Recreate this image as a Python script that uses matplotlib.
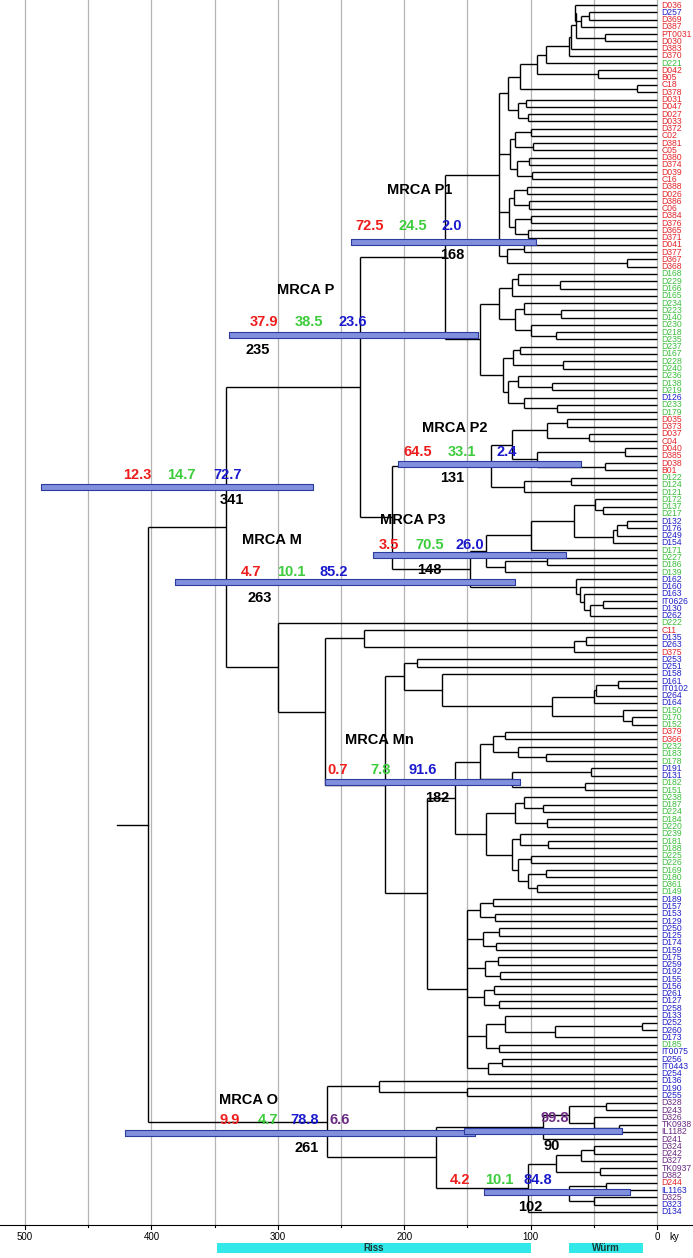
import re
import matplotlib
matplotlib.use("Agg")
import matplotlib.pyplot as plt

plt.rcParams['font.family'] = ['Liberation Sans', 'DejaVu Sans']

# ---------------- data ----------------
LEAVES = ["D036","D257","D369","D387","PT0031","D030","D383","D370","D221","D042","B05","C18","D378",
"D031","D047","D027","D033","D372","C02","D381","C05","D380","D374","D039","C16","D388","D026","D386",
"C06","D384","D376","D365","D371","D041","D377","D367","D368",
"D168","D229","D166","D165","D234","D223","D140","D230","D218","D235","D237","D167","D228","D240",
"D236","D138","D219","D126","D233","D179",
"D035","D373","D037","C04","D040","D385","D038","B01","D122","D124","D121",
"D172","D137","D217","D132","D176","D249","D154","D171","D227","D186","D139","D162","D160","D163",
"IT0626","D130","D262","D222",
"C11","D135","D263","D375","D253","D251","D158","D161","IT0102","D264","D164","D150","D170","D152",
"D379","D366","D232","D183","D178","D191","D131","D182","D151","D238","D187","D224","D184","D220",
"D239","D181","D188","D225","D226","D169","D180","D361","D149",
"D189","D157","D153","D129","D250","D125","D174","D159","D175","D259","D192","D155","D156","D261",
"D127","D258","D133","D252","D260","D173","D185","IT0075","D256","IT0443","D254","D136",
"D190","D255","D328","D243","D326","TK0938","IL1182","D241","D324","D242","D327","TK0937","D382",
"D244","IL1163","D325","D323","D134"]
LEAF_GROUP = ("RBRRRRRRGRRRR" + "R"*24 +
              "G"*17 + "BGG" +
              "RRRRRRRR" + "GGG" +
              "GGG" + "BBBB" + "GGGG" + "BBBBBB" + "G" +
              "RBBRBBB" + "BBBB" + "GGG" +
              "RR" + "GGG" + "BB" + "G"*16 +
              "B"*20 + "G" + "B"*5 +
              "BB" + "P"*11 + "RBPBBB")

A9 = "((((((D036,((D257,D369)54,D387)60)65,(PT0031,D030)41)64,D383)68,D370)70,D221)88,(D042,B05)47)95"
RED1 = ("(((" + A9 + ",(C18,D378)16)108,((D031,D047)104,(D027,D033)102)110)118,"
        "(((D372,C02)100,(D381,C05)98)112,((D380,D374)101,(D039,C16)99)111)116,"
        "(((D388,D026)103,(D386,C06)101)113,((D384,D376)100,(D365,D371)102)112)117,"
        "((D041,D377)105,(D367,D368)24)119)125")
GREEN1 = ("((((D168,(D229,D166)77)110,D165)115,((D234,(D223,D140)76)105,(D230,(D218,D235)80)100)112)125,"
          "(((D237,D167)108,(D228,D240)74)114,((D236,(D138,D219)83)110,(D126,(D233,D179)79)105)118)122)140")
P2 = "((((D035,D373)71,(D037,C04)54)87,((D040,D385)25,(D038,B01)41)95)115,((D122,D124)68,D121)105)131"
P3 = ("(((((D172,(D137,D217)43)49,(((D132,D176)24,D249)32,D154)35)66,D171)100,((D227,D186)87,D139)120)135,"
      "(D162,(D160,(D163,((IT0626,D130)43,D262)53)58)61)64)148")
P = "((" + RED1 + "," + GREEN1 + ")168,(" + P2 + "," + P3 + ")210)235"
MA = "(C11,((D135,D263)56,D375)66)232"
MB = "(((D161,IT0102)31,D264)48,D164)50,(D150,(D170,D152)20)27"
MG = ("((((D379,D366)120,(D232,(D183,D178)88)110)130,((D191,D131)52,(D182,D151)57)115)140,"
      "(((D238,(D187,D224)90)105,(D184,D220)87)112,((D239,(D181,D188)86)108,((D225,D226)100,"
      "((D169,D180)88,(D361,D149)95)102)110)115)135)160")
MBL = ("(((D189,D157)130,(D153,D129)128)140,((D250,D125)125,(D174,D159)127)138,((D175,D259)126,(D192,D155)124)136,"
       "((D156,D261)129,(D127,D258)125)137,((D133,((D252,D260)12,D173)81)120,(D185,IT0075)125)135,"
       "((D256,IT0443)123,D254)134)150")
M = "(" + MA + ",(((D253,D251)190,(D158,(" + MB + ")83)170)200,(" + MG + "," + MBL + ")182)215)263"
O = ("((D136,(D190,D255)150)220,((((D328,D243)40,(D326,(TK0938,IL1182)30)50)70,D241)90,"
     "((((D324,D242)50,D327)60,(TK0937,D382)45)80,((D244,IL1163)40,(D325,D323)50)70,D134)102)175)261")
TREE = "((" + P + ",(D222," + M + ")300)341," + O + ")403"

# MRCA annotations
MRCA_NAMES = ["MRCA P1", "MRCA P", "MRCA P2", "MRCA P3", "", "MRCA M", "MRCA Mn", "MRCA O", "", ""]
MRCA_AGE = ["168", "235", "131", "148", "341", "263", "182", "261", "90", "102"]
MRCA_PROBS = [["72.5", "24.5", "2.0"], ["37.9", "38.5", "23.6"], ["64.5", "33.1", "2.4"],
              ["3.5", "70.5", "26.0"], ["12.3", "14.7", "72.7"], ["4.7", "10.1", "85.2"],
              ["0.7", "7.8", "91.6"], ["9.9", "4.7", "78.8", "6.6"], ["", "", "", "99.8"],
              ["4.2", "10.1", "84.8", ""]]
HPD_LO = [96, 142, 60, 72, 272, 112, 108, 144, 28, 21]
HPD_HI = [242, 339, 205, 225, 487, 381, 263, 421, 153, 137]
RISS = (348, 100)
WURM = (70, 11)

# ---------------- layout ----------------
COL = {"R": "#e4262b", "G": "#3cbf3c", "B": "#2020c8", "P": "#6b2a83"}
NUMCOL = ["#ee1c1c", "#3ccc3c", "#1a1acc", "#6b2a83"]

fig = plt.figure(figsize=(6.93, 12.58), dpi=100)
ax = fig.add_axes([0, 0, 1, 1])
ax.set_xlim(519.8, -28.5)
ax.set_ylim(1258, 0)
ax.axis('off')

Y0, DY = 5.0, 7.27
leaf_y = {n: Y0 + i * DY for i, n in enumerate(LEAVES)}


def parse(s):
    s = s.replace(" ", "")
    pos = 0

    def node():
        nonlocal pos
        if s[pos] == '(':
            pos += 1
            kids = [node()]
            while s[pos] == ',':
                pos += 1
                kids.append(node())
            pos += 1
            m = re.match(r'[0-9.]+', s[pos:])
            pos += len(m.group())
            return {'kids': kids, 'age': float(m.group())}
        m = re.match(r'[A-Za-z0-9]+', s[pos:])
        pos += len(m.group())
        return {'name': m.group(), 'age': 0.0}
    return node()


def layout(n):
    if 'name' in n:
        n['y'] = leaf_y[n['name']]
        return
    for k in n['kids']:
        layout(k)
    ys = [k['y'] for k in n['kids']]
    n['y'] = (min(ys) + max(ys)) / 2


def draw(n):
    if 'name' in n:
        return
    ys = [k['y'] for k in n['kids']]
    ax.plot([n['age'], n['age']], [min(ys), max(ys)], color='black', lw=1.0, solid_capstyle='butt', zorder=3)
    for k in n['kids']:
        ax.plot([n['age'], k['age']], [k['y'], k['y']], color='black', lw=1.0, solid_capstyle='butt', zorder=3)
        draw(k)


root = parse(TREE)
layout(root)

# grid lines
for t in range(0, 501, 50):
    ax.plot([t, t], [0, 1225], color='#b4b4b4', lw=0.9, zorder=1)

draw(root)
ax.plot([root['age'] + 24, root['age']], [root['y'], root['y']], color='black', lw=1.0, zorder=3)

for i, n in enumerate(LEAVES):
    ax.text(-3.5, leaf_y[n], n, color=COL[LEAF_GROUP[i]], fontsize=6.2, va='center', ha='left',
            zorder=4)

TITLE_XY = [(188, 190), (278, 290), (160, 428), (193, 520), None, (305, 540), (220, 740), (323, 1100), None, None]
PROB_Y = [226, 322, 452, 545, 475, 572, 770, 1120, 1118, 1180]
BAR_Y = [242, 335, 464, 555, 487, 582, 782, 1133, 1131, 1192]
AGE_XY = [(162, 255), (316, 350), (162, 478), (180, 570), (336, 500), (314, 598), (174, 798), (277, 1148),
          (83, 1146), (100, 1207)]
PROB_X = [[227, 193, 162], [311, 275, 241], [189, 154, 119], [212, 180, 148], [411, 376, 340],
          [321, 289, 256], [253, 219, 185], [338, 308, 279, 251], [0, 0, 0, 81], [156, 125, 94, 0]]

for i in range(len(MRCA_AGE)):
    ax.fill_between([HPD_HI[i], HPD_LO[i]], BAR_Y[i] - 3, BAR_Y[i] + 3, facecolor='#8090dd',
                    edgecolor='#2b3c9e', lw=0.8, zorder=5)
    if TITLE_XY[i]:
        ax.text(TITLE_XY[i][0], TITLE_XY[i][1], MRCA_NAMES[i], fontsize=10.5, fontweight='bold',
                ha='center', va='center', zorder=6)
    for j, p in enumerate(MRCA_PROBS[i]):
        if p:
            ax.text(PROB_X[i][j], PROB_Y[i], p, color=NUMCOL[j], fontsize=10.5, fontweight='bold',
                    ha='center', va='center', zorder=6)
    ax.text(AGE_XY[i][0], AGE_XY[i][1], MRCA_AGE[i], fontsize=10.5, fontweight='bold',
            ha='center', va='center', zorder=6)

# time axis
ax.plot([519.8, -28.5], [1225, 1225], color='black', lw=0.8)
for t in range(0, 501, 50):
    ax.plot([t, t], [1225, 1229 if t % 100 == 0 else 1227], color='black', lw=0.8)
for t in range(0, 501, 100):
    ax.text(t, 1237, str(t), fontsize=7, ha='center', va='center')
ax.text(-14, 1237, "ky", fontsize=7, ha='center', va='center')

ax.fill_between([RISS[0], RISS[1]], 1243, 1253, color='#33e8e8', lw=0, zorder=2)
ax.text((RISS[0] + RISS[1]) / 2, 1248, "Riss", fontsize=7, fontweight='bold', ha='center', va='center',
        color='#1a3a3a')
ax.fill_between([WURM[0], WURM[1]], 1243, 1253, color='#33e8e8', lw=0, zorder=2)
ax.text((WURM[0] + WURM[1]) / 2, 1248, "Würm", fontsize=7, fontweight='bold', ha='center', va='center',
        color='#1a3a3a')

fig.savefig("out.png", dpi=100)
